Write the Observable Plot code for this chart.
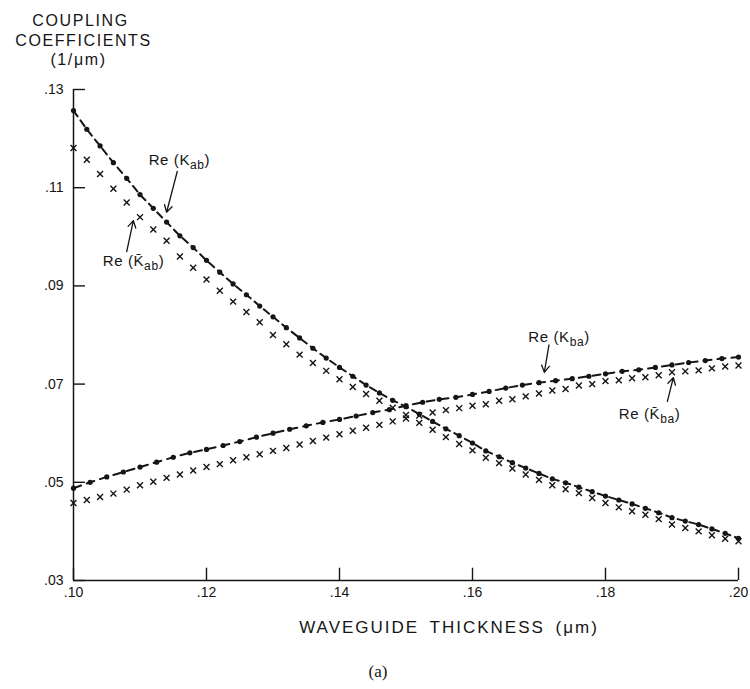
<!DOCTYPE html>
<html><head><meta charset="utf-8">
<script src="https://cdn.jsdelivr.net/npm/d3@7"></script>
<script src="https://cdn.jsdelivr.net/npm/@observablehq/plot@0.6"></script>
<style>
  body { margin: 0; background: #fff; }
  svg { display: block; }
</style>
</head><body>
<div id="chart"></div>
<script>
// Waveguide thickness (µm) sampling for the curves
const thickness2 = [0.100, 0.102, 0.104, 0.106, 0.108, 0.110, 0.112, 0.114, 0.116, 0.118,
  0.120, 0.122, 0.124, 0.126, 0.128, 0.130, 0.132, 0.134, 0.136, 0.138,
  0.140, 0.142, 0.144, 0.146, 0.148, 0.150, 0.152, 0.154, 0.156, 0.158,
  0.160, 0.162, 0.164, 0.166, 0.168, 0.170, 0.172, 0.174, 0.176, 0.178,
  0.180, 0.182, 0.184, 0.186, 0.188, 0.190, 0.192, 0.194, 0.196, 0.198, 0.200];
const thickness25 = [0.1000, 0.1025, 0.1050, 0.1075, 0.1100, 0.1125, 0.1150, 0.1175, 0.1200, 0.1225,
  0.1250, 0.1275, 0.1300, 0.1325, 0.1350, 0.1375, 0.1400, 0.1425, 0.1450, 0.1475,
  0.1500, 0.1525, 0.1550, 0.1575, 0.1600, 0.1625, 0.1650, 0.1675, 0.1700, 0.1725,
  0.1750, 0.1775, 0.1800, 0.1825, 0.1850, 0.1875, 0.1900, 0.1925, 0.1950, 0.1975, 0.2000];

// Re(K_ab) — dashed with dots (on thickness2)
const reKab = [0.1257, 0.1219, 0.1185, 0.1151, 0.1119, 0.1086, 0.1058, 0.1030, 0.1002, 0.0978,
  0.0952, 0.0928, 0.0904, 0.0882, 0.0859, 0.0837, 0.0815, 0.0794, 0.0773, 0.0753,
  0.0734, 0.0716, 0.0698, 0.0682, 0.0667, 0.0654, 0.0639, 0.0624, 0.0609, 0.0595,
  0.0580, 0.0564, 0.0552, 0.0540, 0.0529, 0.0518, 0.0507, 0.0499, 0.0490, 0.0481,
  0.0472, 0.0464, 0.0456, 0.0447, 0.0438, 0.0428, 0.0421, 0.0414, 0.0405, 0.0396, 0.0386];
// Re(K̄_ab) — x markers (on thickness2)
const reKabBar = [0.1181, 0.1157, 0.1128, 0.1098, 0.1070, 0.1040, 0.1015, 0.0992, 0.0960, 0.0937,
  0.0913, 0.0890, 0.0868, 0.0847, 0.0826, 0.0800, 0.0781, 0.0760, 0.0743, 0.0727,
  0.0710, 0.0694, 0.0680, 0.0666, 0.0652, 0.0637, 0.0621, 0.0607, 0.0592, 0.0578,
  0.0565, 0.0550, 0.0539, 0.0528, 0.0516, 0.0505, 0.0494, 0.0486, 0.0478, 0.0468,
  0.0458, 0.0449, 0.0441, 0.0434, 0.0425, 0.0414, 0.0407, 0.0400, 0.0392, 0.0385, 0.0380];
// Re(K_ba) — dashed with dots (on thickness25)
const reKba = [0.0488, 0.0500, 0.0511, 0.0521, 0.0531, 0.0541, 0.0551, 0.0560, 0.0567, 0.0575,
  0.0583, 0.0592, 0.0600, 0.0608, 0.0615, 0.0622, 0.0628, 0.0635, 0.0642, 0.0648,
  0.0656, 0.0663, 0.0669, 0.0673, 0.0679, 0.0685, 0.0692, 0.0698, 0.0703, 0.0707,
  0.0711, 0.0716, 0.0721, 0.0726, 0.0729, 0.0734, 0.0739, 0.0744, 0.0748, 0.0752, 0.0755];
// Re(K̄_ba) — x markers (on thickness2)
const reKbaBar = [0.0458, 0.0464, 0.0470, 0.0477, 0.0485, 0.0494, 0.0501, 0.0509, 0.0516, 0.0524,
  0.0531, 0.0537, 0.0545, 0.0551, 0.0557, 0.0564, 0.0570, 0.0577, 0.0584, 0.0591,
  0.0598, 0.0605, 0.0611, 0.0617, 0.0624, 0.0630, 0.0636, 0.0642, 0.0647, 0.0651,
  0.0656, 0.0659, 0.0666, 0.0669, 0.0675, 0.0681, 0.0687, 0.0690, 0.0697, 0.0700,
  0.0706, 0.0708, 0.0712, 0.0714, 0.0718, 0.0724, 0.0726, 0.0728, 0.0732, 0.0736, 0.0738];

const xTicks = [0.10, 0.12, 0.14, 0.16, 0.18, 0.20];
const yTicks = [0.03, 0.05, 0.07, 0.09, 0.11, 0.13];

const yTitleLines = ["COUPLING", "COEFFICIENTS", "(1/\u03BCm)"];
const xTitle = "WAVEGUIDE THICKNESS (\u03BCm)";
const caption = "(a)";

// Curve annotations (label text, anchor in data units)
const annLabels = ["Re (K_ab)", "Re (K\u0304_ab)", "Re (K_ba)", "Re (K\u0304_ba)"];
const annX = [0.1113, 0.1044, 0.1684, 0.1820];
const annY = [0.1157, 0.0950, 0.0795, 0.0638];
// Arrows pointing from labels to curves
const arrX1 = [0.1156, 0.1080, 0.1715, 0.1893];
const arrY1 = [0.1133, 0.0970, 0.0780, 0.0665];
const arrX2 = [0.1140, 0.1090, 0.1708, 0.1902];
const arrY2 = [0.1050, 0.1033, 0.0724, 0.0713];

const kab = thickness2.map((t, i) => ({t, v: reKab[i]}));
const kabBar = thickness2.map((t, i) => ({t, v: reKabBar[i]}));
const kba = thickness25.map((t, i) => ({t, v: reKba[i]}));
const kbaBar = thickness2.map((t, i) => ({t, v: reKbaBar[i]}));
const ann = annLabels.map((s, i) => ({s, x: annX[i], y: annY[i]}));
const arrows = arrX1.map((x1, i) => ({x1, y1: arrY1[i], x2: arrX2[i], y2: arrY2[i]}));

const ink = "#151515";
const fmt = d => d.toFixed(2).replace(/^0/, "");

const chart = Plot.plot({
  width: 750,
  height: 689,
  marginLeft: 73,
  marginRight: 12,
  marginTop: 89,
  marginBottom: 109,
  style: {fontFamily: "'Liberation Sans', Arial, sans-serif", fontSize: "14px", color: ink, background: "#fff"},
  x: {domain: [0.10, 0.20]},
  y: {domain: [0.03, 0.13]},
  marks: [
    // frame: left and bottom axis lines
    Plot.ruleX([0.10], {y1: 0.03, y2: 0.13, stroke: ink, strokeWidth: 1.5}),
    Plot.ruleY([0.03], {x1: 0.10, x2: 0.20, stroke: ink, strokeWidth: 1.5}),
    // inward ticks
    Plot.ruleY(yTicks, {x1: 0.10, x2: 0.1018, stroke: ink, strokeWidth: 1.4}),
    Plot.ruleX(xTicks, {y1: 0.03, y2: 0.0325, stroke: ink, strokeWidth: 1.4}),
    Plot.axisY(yTicks, {tickSize: 0, tickPadding: 10, tickFormat: fmt, label: null, fontSize: 14}),
    Plot.axisX(xTicks, {tickSize: 0, tickPadding: 7, tickFormat: fmt, label: null, fontSize: 14}),
    // Re(K_ab), Re(K_ba): dashed with dots
    Plot.line(kab, {x: "t", y: "v", stroke: ink, strokeWidth: 2, strokeDasharray: "7,5"}),
    Plot.dot(kab, {x: "t", y: "v", r: 2.6, fill: ink, stroke: null}),
    Plot.line(kba, {x: "t", y: "v", stroke: ink, strokeWidth: 2, strokeDasharray: "8,6"}),
    Plot.dot(kba, {x: "t", y: "v", r: 2.6, fill: ink, stroke: null}),
    // Re(K̄): x markers
    Plot.dot(kabBar, {x: "t", y: "v", symbol: "times", r: 2.8, stroke: ink, strokeWidth: 1.4}),
    Plot.dot(kbaBar, {x: "t", y: "v", symbol: "times", r: 2.8, stroke: ink, strokeWidth: 1.4}),
    // annotations
    Plot.arrow(arrows, {x1: "x1", y1: "y1", x2: "x2", y2: "y2", stroke: ink, strokeWidth: 1.3, headLength: 9}),
    Plot.text(ann, {x: "x", y: "y", text: "s", textAnchor: "start", fontSize: 15, fill: ink}),
    // titles
    Plot.text([yTitleLines[0]], {frameAnchor: "top-left", dx: 7, dy: -75, text: d => d, fontSize: 16, textAnchor: "middle", fill: ink}),
    Plot.text([yTitleLines[1]], {frameAnchor: "top-left", dx: 10, dy: -55, text: d => d, fontSize: 16, textAnchor: "middle", fill: ink}),
    Plot.text([yTitleLines[2]], {frameAnchor: "top-left", dx: 5, dy: -36, text: d => d, fontSize: 16, textAnchor: "middle", fill: ink}),
    Plot.text([xTitle], {frameAnchor: "bottom", dx: 43, dy: 52, text: d => d, fontSize: 17, textAnchor: "middle", fill: ink}),
    Plot.text([caption], {frameAnchor: "bottom", dx: -28, dy: 96, text: d => d, fontSize: 17, textAnchor: "middle", fill: ink,
      fontFamily: "'Liberation Serif', 'Times New Roman', serif"})
  ]
});

// Post-process: letter spacing for lettering, subscripts for annotations
d3.select(chart).selectAll("text").each(function() {
  const t = this.textContent;
  if (yTitleLines.includes(t)) this.setAttribute("letter-spacing", "1.6");
  if (t === xTitle) { this.setAttribute("letter-spacing", "2"); this.setAttribute("word-spacing", "4"); }
  if (annLabels.includes(t)) {
    const m = t.match(/^(.*)_(\w+)\)$/);
    if (m) {
      const el = d3.select(this);
      el.text(null);
      el.attr("letter-spacing", "0.6");
      el.append("tspan").text(m[1]);
      el.append("tspan").attr("font-size", 12).attr("dy", 4).text(m[2]);
      el.append("tspan").attr("dy", -4).text(")");
    }
  }
});

document.getElementById("chart").appendChild(chart);
</script>
</body></html>
